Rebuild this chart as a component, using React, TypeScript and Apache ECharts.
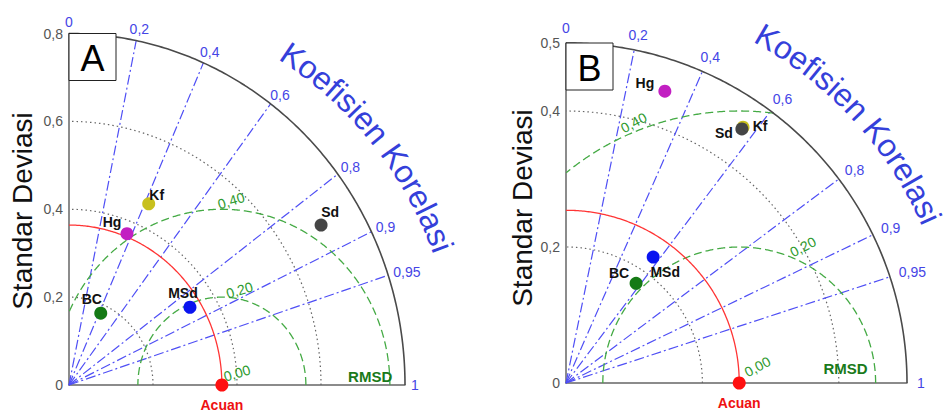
import React, { useEffect, useRef } from "react";
import * as echarts from "echarts";

// ---------- data ----------
const models = ["BC", "Hg", "Kf", "MSd", "Sd"];
const modelColors = ["#157a15", "#c21fc2", "#c8c01e", "#0a14f0", "#454545"];

const stdA = [0.18, 0.371, 0.454, 0.338, 0.702];
const corrA = [0.42, 0.372, 0.418, 0.852, 0.855];
const refA = 0.364;

const stdB = [0.179, 0.453, 0.457, 0.225, 0.454];
const corrB = [0.574, 0.32, 0.568, 0.568, 0.568];
const refB = 0.254;

const corrTicks = [0, 0.2, 0.4, 0.6, 0.8, 0.9, 0.95, 1];
const corrLines = [0.2, 0.4, 0.6, 0.8, 0.9, 0.95];

const stdTicksA = [0, 0.2, 0.4, 0.6, 0.8];
const stdTicksB = [0, 0.2, 0.4, 0.5];
const stdArcsA = [0.2, 0.4, 0.6];
const stdArcsB = [0.2, 0.4];
const rmsdA = [0.2, 0.4];
const rmsdB = [0.2, 0.4];

const panelNames = ["A", "B"];
const titleText = "Koefisien Korelasi";
const yTitle = "Standar Deviasi";
const refName = "Acuan";
const rmsdName = "RMSD";

// ---------- layout / style ----------
const FONT = "'Liberation Sans', Arial, Helvetica, sans-serif";
const panels = [
  {
    grid: [69, 33.5, 336, 351.5], max: 0.8, std: stdA, corr: corrA, ref: refA,
    stdTicks: stdTicksA, stdArcs: stdArcsA, rmsd: rmsdA, corrGap: 6,
    title: { r: 398, a0: 55.8, a1: 20.2 }, ylab: [22, 211],
    rmsdLab: [[0.045, 37], [0.22, 79], [0.42, 87]], rmsdRot: 17, rmsdTag: [0.717, 0.02],
    ptLabel: [[-9, -14], [-15, -12], [8, -9], [-7, -14], [9, -13]],
  },
  {
    grid: [566, 43, 341, 340], max: 0.5, std: stdB, corr: corrB, ref: refB,
    stdTicks: stdTicksB, stdArcs: stdArcsB, rmsd: rmsdB, corrGap: 10,
    title: { r: 400, a0: 59.8, a1: 24.2 }, ylab: [522, 208],
    rmsdLab: [[0.036, 42], [0.221, 65], [0.413, 112]], rmsdRot: 28, rmsdTag: [0.41, 0.021],
    ptLabel: [[-17, -10], [-20, -8], [17, -1], [12, 15], [-18, 4]],
  },
];

const BLUE_LINE = "#4f4ff5";
const BLUE_LABEL = "#4545e6";
const BLUE_TITLE = "#3440da";
const GREEN = "#44aa44";
const GREEN_TEXT = "#2e9a2e";
const GREEN_TAG = "#1a7a1a";
const RED = "#ff3535";

const fmtStd = (v: number) => (v === 0 ? "0" : v.toFixed(1).replace(".", ","));
const fmtCorr = (v: number) => String(v).replace(".", ",");
const fmtRmsd = (v: number) => v.toFixed(2).replace(".", ",");

function arc(r: number, cx = 0, from = 0, to = 90, n = 180, limit = Infinity) {
  const pts: number[][] = [];
  for (let k = 0; k <= n; k++) {
    const a = ((from + ((to - from) * k) / n) * Math.PI) / 180;
    const x = cx + r * Math.cos(a);
    const y = r * Math.sin(a);
    if (x < 0 || x * x + y * y > limit * limit + 1e-9) continue;
    pts.push([x, y]);
  }
  return pts;
}

export default function App() {
  const ref = useRef<HTMLDivElement>(null);
  useEffect(() => {
    document.body.style.margin = "0";
    const chart = echarts.init(ref.current!, null, { renderer: "svg" });
    const grid: any[] = [];
    const xAxis: any[] = [];
    const yAxis: any[] = [];
    const series: any[] = [];
    const axisLineStyle = { color: "#666", width: 1.5 };

    panels.forEach((p, i) => {
      grid.push({ left: p.grid[0], top: p.grid[1], width: p.grid[2], height: p.grid[3], containLabel: false, outerBoundsMode: "none" });
      xAxis.push({
        gridIndex: i, type: "value", min: 0, max: p.max,
        axisLine: { show: true, onZero: false, lineStyle: axisLineStyle },
        axisTick: { show: false }, axisLabel: { show: false }, splitLine: { show: false },
      });
      yAxis.push({
        gridIndex: i, type: "value", min: 0, max: p.max,
        axisLine: { show: true, onZero: false, lineStyle: axisLineStyle },
        axisTick: { show: false }, splitLine: { show: false },
        axisLabel: {
          show: true, customValues: p.stdTicks, formatter: (v: number) => fmtStd(v),
          color: "#555", fontSize: 14, margin: 6, fontFamily: FONT,
        },
      });
      const common = { type: "line", xAxisIndex: i, yAxisIndex: i, symbol: "none", silent: true, clip: false };
      // std dotted arcs
      p.stdArcs.forEach((r) =>
        series.push({ ...common, data: arc(r), lineStyle: { color: "#666", width: 1.2, type: [1.5, 3] }, z: 1 })
      );
      // correlation lines
      corrLines.forEach((c) =>
        series.push({
          ...common,
          data: [[0, 0], [p.max * c, p.max * Math.sqrt(1 - c * c)]],
          lineStyle: { color: BLUE_LINE, width: 1.2, type: [10, 3, 2, 3] }, z: 1,
        })
      );
      // rmsd arcs
      p.rmsd.forEach((r) =>
        series.push({ ...common, data: arc(r, p.ref, 0, 180, 1440, p.max), lineStyle: { color: GREEN, width: 1.3, type: [8, 4] }, z: 2 })
      );
      // reference arc
      series.push({ ...common, data: arc(p.ref), lineStyle: { color: RED, width: 1.3 }, z: 2 });
      // outer arc
      series.push({ ...common, data: arc(p.max), lineStyle: { color: "#4a4a4a", width: 1.6 }, z: 3 });
      // models
      series.push({
        type: "scatter", xAxisIndex: i, yAxisIndex: i, silent: true, symbolSize: 13, z: 5,
        itemStyle: { opacity: 1 },
        data: models.map((m, k) => {
          const s = p.std[k], c = p.corr[k];
          return {
            name: m,
            value: [s * c, s * Math.sqrt(1 - c * c)],
            itemStyle: { color: modelColors[k], opacity: 1 },
            label: {
              show: true, formatter: m, position: "inside", offset: p.ptLabel[k],
              color: "#111", fontWeight: "bold", fontSize: 14, fontFamily: FONT,
            },
          };
        }),
      });
      // reference point
      series.push({
        type: "scatter", xAxisIndex: i, yAxisIndex: i, silent: true, symbolSize: 13, z: 6,
        itemStyle: { opacity: 1 },
        data: [{
          name: refName, value: [p.ref, 0], itemStyle: { color: "#ff1010", opacity: 1 },
          label: { show: true, formatter: refName, position: "inside", offset: [0, 20], color: "#ee1111", fontWeight: "bold", fontSize: 14, fontFamily: FONT },
        }],
      });
    });

    chart.setOption({ animation: false, backgroundColor: "#fff", grid, xAxis, yAxis, series });

    // ---------- annotations ----------
    const canvas = document.createElement("canvas");
    const ctx = canvas.getContext("2d")!;
    const measure = (t: string, font: string) => { ctx.font = font; return ctx.measureText(t).width; };
    const px = (i: number, x: number, y: number) => chart.convertToPixel({ gridIndex: i } as any, [x, y]) as number[];
    const txt = (text: string, x: number, y: number, o: any = {}) => ({
      type: "text", x, y, rotation: o.rotation || 0, z: 10, silent: true,
      style: {
        text, fill: o.fill || "#000",
        font: o.font || `14px ${FONT}`,
        align: o.align || "center", textAlign: o.align || "center",
        verticalAlign: o.va || "middle", textVerticalAlign: o.va || "middle",
      },
    });
    const graphic: any[] = [];
    panels.forEach((p, i) => {
      const o = px(i, 0, 0);
      // correlation labels
      const cf = `14px ${FONT}`;
      corrTicks.forEach((c) => {
        const t = fmtCorr(c);
        const e = px(i, p.max * c, p.max * Math.sqrt(Math.max(0, 1 - c * c)));
        const s = Math.sqrt(Math.max(0, 1 - c * c));
        const w = measure(t, cf), h = 11;
        const cx = e[0] + c * p.corrGap + (w / 2) * c;
        const cy = e[1] - s * p.corrGap - (h / 2) * s;
        graphic.push(txt(t, cx, cy, { fill: BLUE_LABEL, font: cf }));
      });
      // rmsd labels
      [0, ...p.rmsd].forEach((v, k) => {
        const [d, a] = p.rmsdLab[k];
        const r = (a * Math.PI) / 180;
        const q = px(i, p.ref + d * Math.cos(r), d * Math.sin(r));
        graphic.push(txt(fmtRmsd(v), q[0], q[1], { fill: GREEN_TEXT, rotation: (p.rmsdRot * Math.PI) / 180 }));
      });
      const tg = px(i, p.rmsdTag[0], p.rmsdTag[1]);
      graphic.push(txt(rmsdName, tg[0], tg[1], { fill: GREEN_TAG, font: `bold 15px ${FONT}` }));
      // panel box
      const tl = px(i, 0, p.max);
      graphic.push({ type: "rect", z: 9, silent: true, shape: { x: tl[0], y: tl[1], width: 47, height: 47 }, style: { fill: "#fff", stroke: "#222", lineWidth: 1 } });
      graphic.push(txt(panelNames[i], tl[0] + 23.5, tl[1] + 25, { font: `36px ${FONT}`, fill: "#000" }));
      // y title
      graphic.push(txt(yTitle, p.ylab[0], p.ylab[1], { font: `28px ${FONT}`, fill: "#111", rotation: Math.PI / 2 }));
      // curved title
      const tf = `32px ${FONT}`;
      const ws = titleText.split("").map((ch) => measure(ch, tf));
      const centers: number[] = [];
      let acc = 0;
      ws.forEach((w) => { centers.push(acc + w / 2); acc += w; });
      const c0 = centers[0], c1 = centers[centers.length - 1];
      titleText.split("").forEach((ch, k) => {
        if (ch === " ") return;
        const a = p.title.a0 + ((centers[k] - c0) / (c1 - c0)) * (p.title.a1 - p.title.a0);
        const ar = (a * Math.PI) / 180;
        const x = o[0] + p.title.r * Math.cos(ar);
        const y = o[1] - p.title.r * Math.sin(ar);
        graphic.push(txt(ch, x, y, { font: tf, fill: BLUE_TITLE, rotation: ((a - 90) * Math.PI) / 180 }));
      });
    });
    chart.setOption({ graphic });
    return () => chart.dispose();
  }, []);
  return <div ref={ref} style={{ position: "absolute", left: 0, top: 0, width: 951, height: 412 }} />;
}
